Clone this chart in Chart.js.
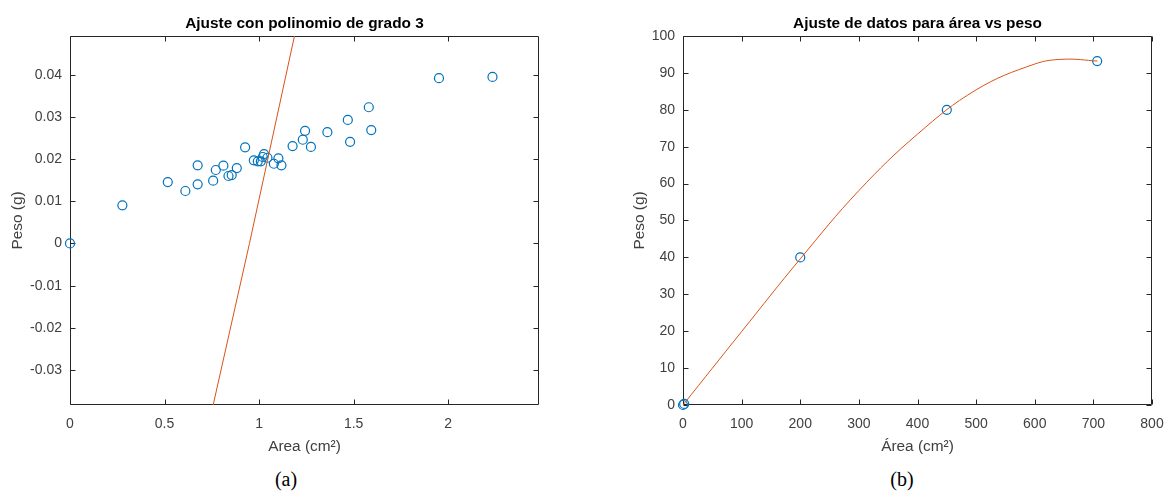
<!DOCTYPE html>
<html>
<head>
<meta charset="utf-8">
<script src="https://cdn.jsdelivr.net/npm/chart.js@4.4.1/dist/chart.umd.min.js"></script>
<style>
  html, body { margin: 0; padding: 0; background: #fff; }
  body { position: relative; width: 1172px; height: 492px; overflow: hidden; }
  canvas { position: absolute; top: 0; }
  #cA { left: 0; }
  #cB { left: 600px; }
  .cap { position: absolute; width: 60px; text-align: center; font: 20px "Liberation Serif", "Times New Roman", serif; line-height: 24px; color: #000; top: 467px; }
</style>
</head>
<body>
<canvas id="cA" width="590" height="460"></canvas>
<canvas id="cB" width="572" height="460"></canvas>
<div class="cap" style="left:256px">(a)</div>
<div class="cap" style="left:872px">(b)</div>
<script>
// (a) measured samples: area in cm² and weight in g
const areaA = [0, 0.277, 0.517, 0.610, 0.675, 0.675, 0.757, 0.771, 0.811, 0.838, 0.855, 0.882,
  0.926, 0.972, 0.993, 1.009, 1.019, 1.026, 1.044, 1.078, 1.102, 1.118, 1.177, 1.231, 1.243,
  1.274, 1.361, 1.469, 1.481, 1.580, 1.593, 1.951, 2.234];
const pesoA = [0, 0.00905, 0.01457, 0.01244, 0.01853, 0.01403, 0.01488, 0.01742, 0.01844, 0.0160,
  0.01623, 0.01789, 0.0228, 0.01972, 0.01948, 0.01948, 0.0205, 0.0212, 0.02033, 0.0189, 0.0202,
  0.01853, 0.0231, 0.0246, 0.0267, 0.0229, 0.0264, 0.0293, 0.0241, 0.0323, 0.0269, 0.0392, 0.0395];
// (a) degree-3 polynomial fit, sampled across the visible range
const fitAreaA = [0.757, 0.949, 1.187];
const fitPesoA = [-0.0383, 0.0, 0.0492];
// (a) axis limits and ticks
const xLimA = [0, 2.48];
const yLimA = [-0.0383, 0.0492];
const xTicksA = [0, 0.5, 1, 1.5, 2];
const xTickLabelsA = ['0', '0.5', '1', '1.5', '2'];
const yTicksA = [-0.03, -0.02, -0.01, 0, 0.01, 0.02, 0.03, 0.04];
const yTickLabelsA = ['-0.03', '-0.02', '-0.01', '0', '0.01', '0.02', '0.03', '0.04'];

// (b) data points and fitted curve
const areaB = [0, 2, 200, 450, 706.5];
const pesoB = [0, 0.3, 40, 80, 93.2];
const curveAreaB = [0, 100, 200, 300, 400, 500, 600, 650, 707];
const curvePesoB = [0, 19.9, 39.6, 58.1, 73.4, 85.4, 92.4, 93.7, 93.2];
// (b) axis limits and ticks
const xLimB = [0, 800];
const yLimB = [0, 100];
const xTicksB = [0, 100, 200, 300, 400, 500, 600, 700, 800];
const xTickLabelsB = ['0', '100', '200', '300', '400', '500', '600', '700', '800'];
const yTicksB = [0, 10, 20, 30, 40, 50, 60, 70, 80, 90, 100];
const yTickLabelsB = ['0', '10', '20', '30', '40', '50', '60', '70', '80', '90', '100'];

const BLUE = '#0072BD';
const ORANGE = '#D95319';
const AXIS = '#262626';
const TEXT = '#404040';

Chart.defaults.font.family = '"Liberation Sans", Arial, Helvetica, sans-serif';
Chart.defaults.color = TEXT;

const pairs = (xs, ys) => xs.map((v, i) => ({ x: v, y: ys[i] }));

// Box around the axes with inward tick marks on all four sides
const framePlugin = {
  id: 'frame',
  beforeDatasetsDraw(chart) {
    const { ctx, chartArea: a, scales: { x, y } } = chart;
    const L = Math.round(a.left) + 0.5, R = Math.round(a.right) - 0.5;
    const T = Math.round(a.top) + 0.5, B = Math.round(a.bottom) - 0.5;
    const len = 5;
    ctx.save();
    ctx.lineWidth = 1;
    ctx.strokeStyle = AXIS;
    ctx.beginPath();
    ctx.moveTo(L, T); ctx.lineTo(R, T); ctx.lineTo(R, B); ctx.lineTo(L, B); ctx.closePath();
    x.ticks.forEach(t => {
      const p = Math.round(x.getPixelForValue(t.value)) + 0.5;
      ctx.moveTo(p, B); ctx.lineTo(p, B - len);
      ctx.moveTo(p, T); ctx.lineTo(p, T + len);
    });
    y.ticks.forEach(t => {
      const p = Math.round(y.getPixelForValue(t.value)) + 0.5;
      ctx.moveTo(L, p); ctx.lineTo(L + len, p);
      ctx.moveTo(R, p); ctx.lineTo(R - len, p);
    });
    ctx.stroke();
    ctx.restore();
  }
};

function makeChart(id, cfg) {
  return new Chart(document.getElementById(id), {
    type: 'scatter',
    data: {
      datasets: [
        {
          type: 'line',
          data: pairs(cfg.lineX, cfg.lineY),
          borderColor: ORANGE,
          borderWidth: 1,
          pointRadius: 0,
          fill: false,
          tension: cfg.smooth ? 0.4 : 0,
          order: 0
        },
        {
          data: pairs(cfg.ptX, cfg.ptY),
          showLine: false,
          pointStyle: 'circle',
          pointRadius: 4.5,
          pointBorderWidth: 1.2,
          pointBorderColor: BLUE,
          pointBackgroundColor: 'rgba(0,0,0,0)',
          clip: false,
          order: 1
        }
      ]
    },
    options: {
      responsive: false,
      animation: false,
      devicePixelRatio: 1,
      layout: { padding: { top: 0, left: 0, bottom: 0, right: cfg.padRight } },
      plugins: {
        legend: { display: false },
        tooltip: { enabled: false },
        title: {
          display: true,
          text: cfg.title,
          fullSize: false,
          color: '#000',
          font: { size: 15.4, weight: 'bold' },
          padding: { top: 14.5, bottom: 3 }
        }
      },
      scales: {
        x: {
          type: 'linear',
          min: cfg.xLim[0], max: cfg.xLim[1],
          grid: { display: false },
          border: { display: false },
          afterBuildTicks: s => { s.ticks = cfg.xTicks.map(v => ({ value: v })); },
          afterFit: s => { s.height = 55; },
          ticks: {
            autoSkip: false, maxRotation: 0, padding: 3,
            font: { size: 14 }, color: TEXT,
            callback: (v, i) => cfg.xTickLabels[i]
          },
          title: {
            display: true, text: cfg.xTitle, color: TEXT,
            font: { size: 15.4 }, padding: { top: 0, bottom: 3.8 }
          }
        },
        y: {
          type: 'linear',
          min: cfg.yLim[0], max: cfg.yLim[1],
          grid: { display: false },
          border: { display: false },
          afterBuildTicks: s => { s.ticks = cfg.yTicks.map(v => ({ value: v })); },
          afterFit: s => { s.width = cfg.yWidth; },
          ticks: {
            autoSkip: false, padding: 0,
            font: { size: 14 }, color: TEXT,
            callback: (v, i) => cfg.yTickLabels[i]
          },
          title: {
            display: true, text: 'Peso (g)', color: TEXT,
            font: { size: 15.4 }, padding: { top: cfg.yTitlePad, bottom: 0 }
          }
        }
      }
    },
    plugins: [framePlugin]
  });
}

makeChart('cA', {
  title: 'Ajuste con polinomio de grado 3',
  xTitle: 'Area (cm²)',
  lineX: fitAreaA, lineY: fitPesoA, smooth: false,
  ptX: areaA, ptY: pesoA,
  xLim: xLimA, yLim: yLimA,
  xTicks: xTicksA, xTickLabels: xTickLabelsA,
  yTicks: yTicksA, yTickLabels: yTickLabelsA,
  yWidth: 70, yTitlePad: 8.3, padRight: 51
});

makeChart('cB', {
  title: 'Ajuste de datos para área vs peso',
  xTitle: 'Área (cm²)',
  lineX: curveAreaB, lineY: curvePesoB, smooth: true,
  ptX: areaB, ptY: pesoB,
  xLim: xLimB, yLim: yLimB,
  xTicks: xTicksB, xTickLabels: xTickLabelsB,
  yTicks: yTicksB, yTickLabels: yTickLabelsB,
  yWidth: 83, yTitlePad: 30.8, padRight: 20
});
</script>
</body>
</html>
